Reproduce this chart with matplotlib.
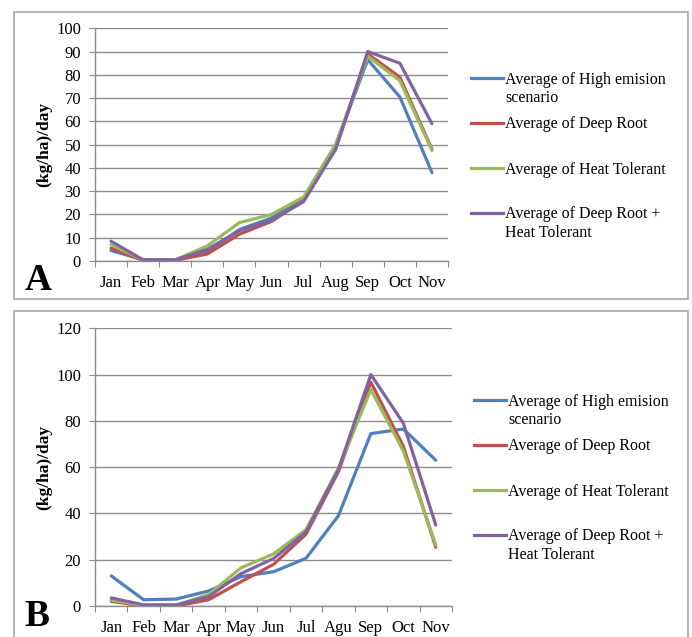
import numpy as np
import matplotlib
matplotlib.use('Agg')
import matplotlib.pyplot as plt
from matplotlib.patches import Rectangle
from matplotlib.lines import Line2D

# 数据
months_a = ['Jan', 'Feb', 'Mar', 'Apr', 'May', 'Jun', 'Jul', 'Aug', 'Sep', 'Oct', 'Nov']
months_b = ['Jan', 'Feb', 'Mar', 'Apr', 'May', 'Jun', 'Jul', 'Agu', 'Sep', 'Oct', 'Nov']

series_names = ['Average of High emision\nscenario', 'Average of Deep Root',
                'Average of Heat Tolerant', 'Average of Deep Root +\nHeat Tolerant']

high_a = [4.5, 0.5, 0.5, 4.0, 13.5, 18.5, 27.0, 50.0, 86.5, 70.5, 38.0]
deep_a = [5.5, 0.3, 0.3, 3.0, 11.5, 17.0, 26.0, 48.5, 89.0, 79.0, 48.0]
heat_a = [7.0, 0.5, 0.5, 6.5, 16.5, 20.0, 27.5, 50.0, 88.0, 77.5, 47.5]
both_a = [8.5, 0.5, 0.5, 5.0, 13.0, 17.5, 25.5, 48.0, 90.0, 85.0, 59.0]

high_b = [13.0, 2.7, 3.0, 6.5, 12.7, 14.8, 20.6, 39.0, 74.5, 76.5, 63.0]
deep_b = [2.0, 0.0, 0.0, 2.7, 10.5, 18.0, 31.0, 58.0, 96.7, 69.0, 25.4]
heat_b = [2.5, 0.3, 0.3, 5.0, 16.5, 22.5, 33.0, 59.5, 93.5, 67.0, 26.5]
both_b = [3.5, 0.5, 0.5, 4.0, 14.0, 20.5, 32.0, 59.0, 100.0, 79.0, 35.0]

colors = ['#4F81BD', '#C0504D', '#9BBB59', '#8064A2']

plt.rcParams['font.family'] = ['Liberation Serif', 'DejaVu Serif']

W, H = 692, 637
fig = plt.figure(figsize=(W / 100, H / 100), dpi=100)


def fx(px):
    return px / W


def fy(py):
    return 1 - py / H


# 外框
for (x0, y0, x1, y1) in [(14, 12, 688, 299), (14, 311, 688, 660)]:
    fig.add_artist(Rectangle((fx(x0), fy(y1)), fx(x1) - fx(x0), fy(y0) - fy(y1),
                             transform=fig.transFigure, fill=False,
                             edgecolor='#a6a6a6', lw=1.2))


def draw_panel(rect, months, data, ymax, ystep, letter, letter_xy, ylab_xy, leg_x, leg_y0):
    ax = fig.add_axes(rect)
    x = np.arange(len(months))
    for vals, c in zip(data, colors):
        ax.plot(x, vals, color=c, lw=2.3, solid_capstyle='round', solid_joinstyle='round')
    ax.set_xlim(-0.5, len(months) - 0.5)
    ax.set_ylim(0, ymax)
    ax.set_yticks(np.arange(0, ymax + 1, ystep))
    ax.yaxis.grid(True, color='#8c8c8c', lw=1.0)
    ax.set_axisbelow(True)
    for s in ['top', 'right']:
        ax.spines[s].set_visible(False)
    for s in ['left', 'bottom']:
        ax.spines[s].set_color('#8c8c8c')
        ax.spines[s].set_linewidth(1.0)
    # 类别边界刻度 + 居中标签
    ax.set_xticks(np.arange(-0.5, len(months), 1.0))
    ax.set_xticklabels([])
    ax.set_xticks(x, minor=True)
    ax.set_xticklabels(months, minor=True, fontsize=12)
    ax.tick_params(axis='x', which='major', length=4, color='#8c8c8c', direction='out')
    ax.tick_params(axis='x', which='minor', length=0, pad=10)
    ax.tick_params(axis='y', length=4, color='#8c8c8c', labelsize=12, pad=6)
    fig.text(fx(ylab_xy[0]), fy(ylab_xy[1]), '(kg/ha)/day', rotation=90, ha='center', va='center',
             fontsize=12.5, fontweight='bold')
    fig.text(fx(letter_xy[0]), fy(letter_xy[1]), letter, ha='center', va='center',
             fontsize=27, fontweight='bold')
    # 图例
    for i, (name, c) in enumerate(zip(series_names, colors)):
        yy = leg_y0 + i * 45
        fig.add_artist(Line2D([fx(leg_x), fx(leg_x + 32)], [fy(yy), fy(yy)],
                              transform=fig.transFigure, color=c, lw=2.3))
        fig.text(fx(leg_x + 34), fy(yy - 6.5), name, ha='left', va='top',
                 fontsize=11.5, linespacing=1.2)
    return ax


draw_panel([fx(95), fy(261), fx(448) - fx(95), fy(28.3) - fy(261)],
           months_a, [high_a, deep_a, heat_a, both_a], 100, 10,
           'A', (38, 280), (44, 144), 471, 78)
draw_panel([fx(95), fy(606), fx(452) - fx(95), fy(328.3) - fy(606)],
           months_b, [high_b, deep_b, heat_b, both_b], 120, 20,
           'B', (37, 616), (44, 467), 474, 400)

fig.savefig('out.png', dpi=100)
